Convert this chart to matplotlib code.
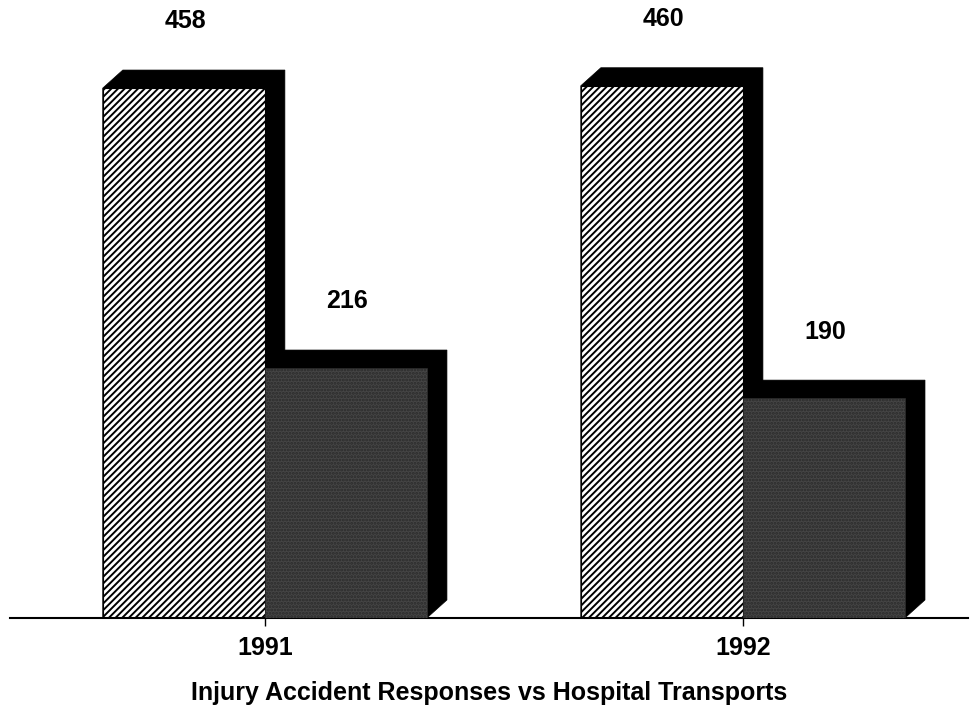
import matplotlib
matplotlib.use('Agg')
import matplotlib.pyplot as plt
from matplotlib.patches import Polygon
import numpy as np

years = ['1991', '1992']
responses = [458, 460]
transports = [216, 190]
title = 'Injury Accident Responses vs Hospital Transports'

plt.rcParams['font.family'] = ['Liberation Sans', 'DejaVu Sans']
plt.rcParams['hatch.linewidth'] = 1.4

width = 0.339
dx = 0.042    # depth offset in x units
dy = 15.6     # depth offset in y units


def draw_shadow(ax, x0, x1, top):
    pts = [(x0, top), (x0 + dx, top + dy), (x1 + dx, top + dy),
           (x1 + dx, dy), (x1, 0), (x0, 0)]
    ax.add_patch(Polygon(pts, closed=True, facecolor='black', edgecolor='black', lw=0.5, zorder=1))


fig = plt.figure(figsize=(9.72, 7.13), dpi=100)
ax = fig.add_axes([10 / 972, 95 / 713, 958 / 972, 608 / 713])
ax.set_xlim(-0.533, 1.471)
ax.set_ylim(0, 525.5)

x = np.arange(len(years))
for i in range(len(years)):
    # hatched bar on the left of the tick, dark bar on the right
    draw_shadow(ax, x[i] - width, x[i], responses[i])
    ax.bar(x[i] - width / 2, responses[i], width, facecolor='white', edgecolor='black',
           hatch='/////', lw=0.8, zorder=2)
    draw_shadow(ax, x[i], x[i] + width, transports[i])
    ax.bar(x[i] + width / 2, transports[i], width, facecolor='#454545', edgecolor='#2a2a2a',
           hatch='.....', lw=0.5, zorder=3)

    ax.annotate(str(responses[i]), (x[i] - width / 2, responses[i]), xytext=(1, 48),
                textcoords='offset points', ha='center', va='center', fontsize=18, fontweight='bold')
    ax.annotate(str(transports[i]), (x[i] + width / 2, transports[i]), xytext=(1, 48),
                textcoords='offset points', ha='center', va='center', fontsize=18, fontweight='bold')

ax.set_xticks(x)
ax.set_xticklabels(years, fontsize=18, fontweight='bold')
ax.tick_params(axis='x', length=6, width=1, pad=7)
ax.set_yticks([])
for s in ['top', 'left', 'right']:
    ax.spines[s].set_visible(False)
ax.spines['bottom'].set_linewidth(1.5)
ax.set_xlabel(title, fontsize=18, fontweight='bold', labelpad=15)

plt.savefig('out.png', dpi=100)
